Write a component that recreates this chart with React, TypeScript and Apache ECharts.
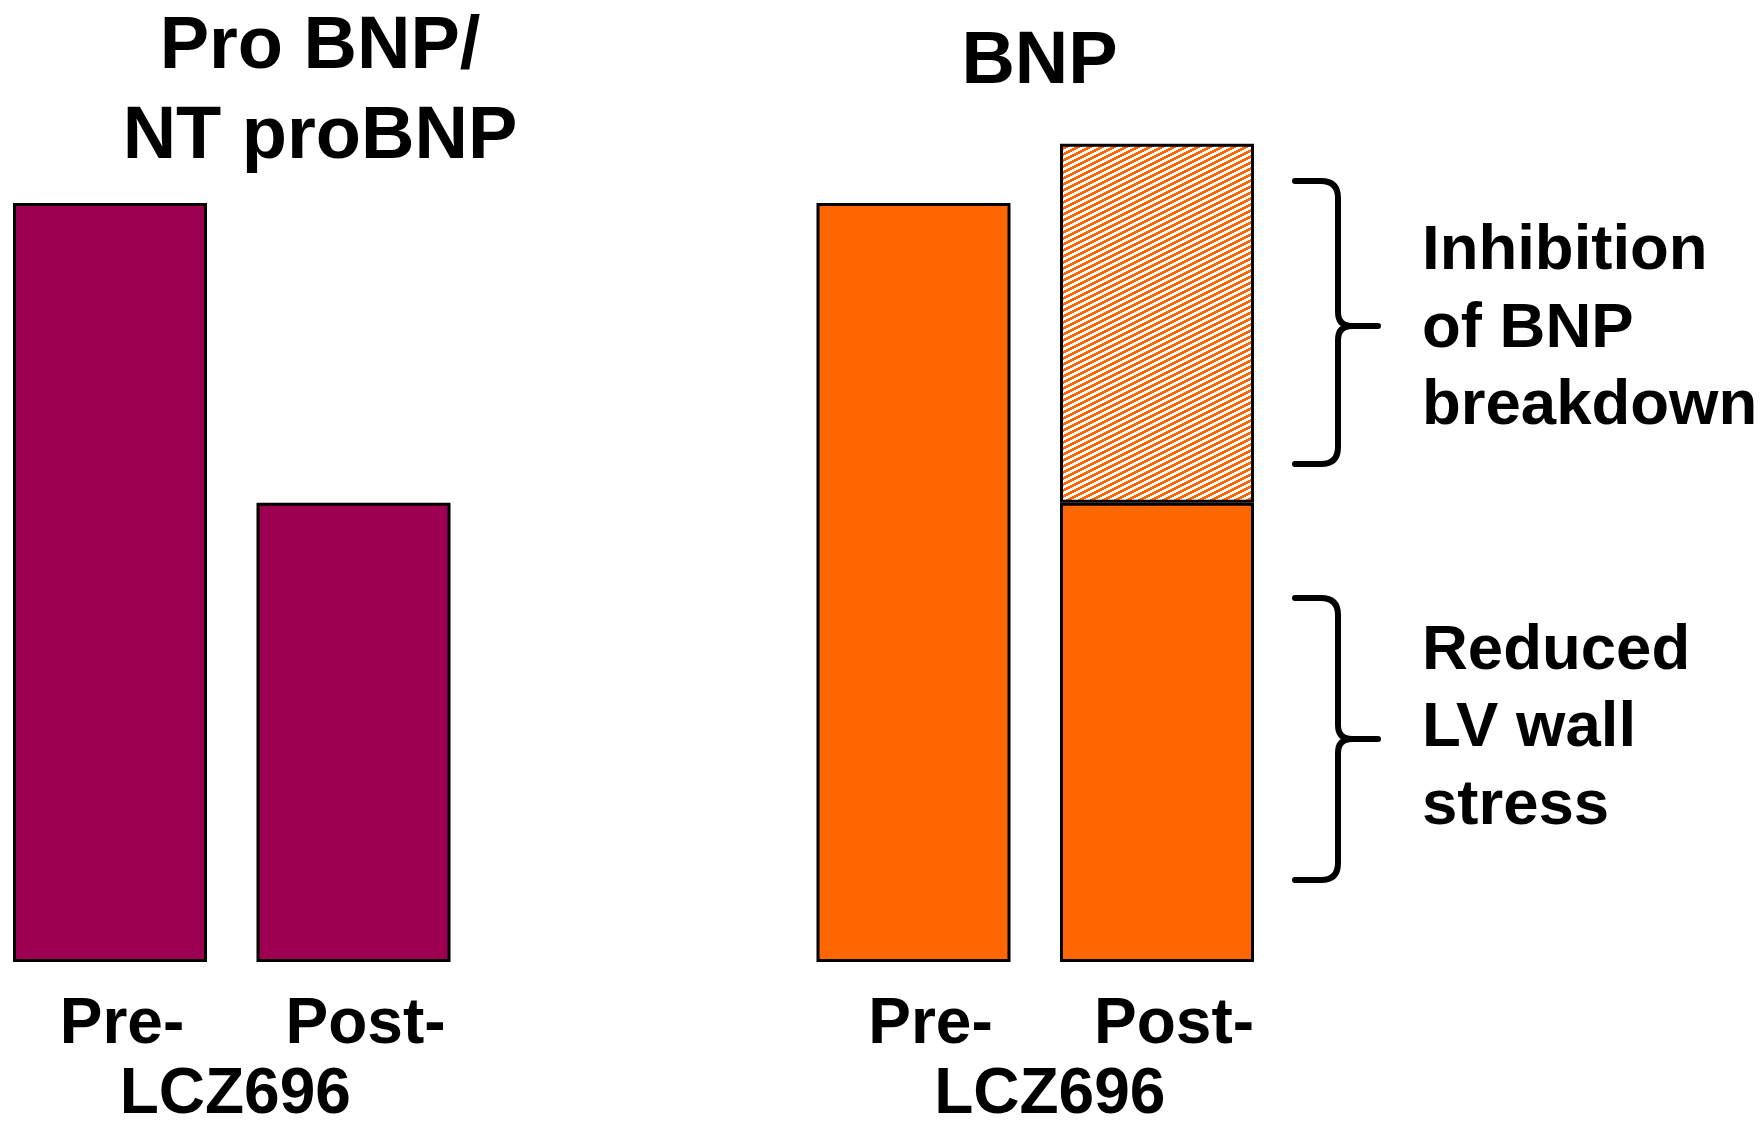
import React, { useEffect, useRef } from "react";
import * as echarts from "echarts";

// ---- data ----
const categories = ["Pre-", "Post-"];
const proBnpValues = [100, 60.5];
const bnpStressValues = [100, 60.5];
const bnpBreakdownValues: (number | string)[] = ["-", 47.3];
const groupTitles = ["Pro BNP/\nNT proBNP", "BNP"];
const axisNameText = "LCZ696";
const braceLabels = ["Inhibition\nof BNP\nbreakdown", "Reduced\nLV wall\nstress"];
const yMax = 110;

// ---- styles ----
const PURPLE = "#9D0050";
const ORANGE = "#FF6600";
const FONT = '"Liberation Sans", Arial, Helvetica, sans-serif';

const BRACE_UPPER =
  "M1295,181 L1321,181 Q1338,181 1338,198 L1338,312 Q1338,326 1352,326 L1378,326 M1352,326 Q1338,326 1338,340 L1338,447 Q1338,464 1321,464 L1295,464";
const BRACE_LOWER =
  "M1295,598 L1321,598 Q1338,598 1338,615 L1338,725 Q1338,739 1352,739 L1378,739 M1352,739 Q1338,739 1338,753 L1338,863 Q1338,880 1321,880 L1295,880";

let registered = false;
function registerShapes() {
  if (registered) return;
  echarts.graphic.registerShape("braceUpper", echarts.graphic.extendPath(BRACE_UPPER, {}));
  echarts.graphic.registerShape("braceLower", echarts.graphic.extendPath(BRACE_LOWER, {}));
  registered = true;
}

function makeHatch(): HTMLCanvasElement {
  const W = 12;
  const P = 6;
  const c = document.createElement("canvas");
  c.width = W;
  c.height = P;
  const ctx = c.getContext("2d")!;
  const img = ctx.createImageData(W, P);
  for (let y = 0; y < P; y++) {
    for (let x = 0; x < W; x++) {
      const v = (y + Math.floor(x / 2)) % P;
      const i = (y * W + x) * 4;
      if (v < P / 2) {
        img.data[i] = 255; img.data[i + 1] = 102; img.data[i + 2] = 0;
      } else {
        img.data[i] = 255; img.data[i + 1] = 255; img.data[i + 2] = 255;
      }
      img.data[i + 3] = 255;
    }
  }
  ctx.putImageData(img, 0, 0);
  return c;
}

export default function App() {
  const ref = useRef<HTMLDivElement>(null);
  useEffect(() => {
    if (!ref.current) return;
    registerShapes();
    const chart = echarts.init(ref.current, undefined, { renderer: "svg" });
    const hatch = makeHatch();

    const labelStyle = {
      fontSize: 64,
      fontWeight: "bold" as const,
      fontFamily: FONT,
      color: "#000",
    };

    const xAxisBase = (gridIndex: number, padLeft: number, namePad: number) => ({
      type: "category" as const,
      gridIndex,
      data: categories,
      axisLine: { show: false },
      axisTick: { show: false },
      axisLabel: { ...labelStyle, margin: 27, padding: [0, 0, 0, padLeft] },
      name: axisNameText,
      nameLocation: "middle" as const,
      nameGap: 106,
      nameMoveOverlap: false,
      nameTextStyle: { ...labelStyle, lineHeight: 46, padding: [0, 0, 0, namePad] },
    });

    const yAxisBase = (gridIndex: number) => ({
      type: "value" as const,
      gridIndex,
      min: 0,
      max: yMax,
      show: false,
      splitLine: { show: false },
    });

    const barCommon = {
      type: "bar" as const,
      barWidth: 194,
      itemStyle: { borderColor: "#000", borderWidth: 3 },
    };

    const titleStyle = {
      fontSize: 74,
      fontWeight: "bold",
      fontFamily: FONT,
      fill: "#000",
      align: "center",
      verticalAlign: "top",
      lineHeight: 90,
    };
    const noteStyle = {
      fontSize: 63.5,
      fontWeight: "bold",
      fontFamily: FONT,
      fill: "#000",
      align: "left",
      verticalAlign: "top",
      lineHeight: 77.5,
    };

    chart.setOption({
      animation: false,
      backgroundColor: "#fff",
      grid: [
        { left: -11.75, width: 487, top: 127, height: 835, outerBoundsMode: "none", containLabel: false },
        { left: 791.75, width: 487, top: 127, height: 835, outerBoundsMode: "none", containLabel: false },
      ],
      xAxis: [xAxisBase(0, 24, 7), xAxisBase(1, 34, 29)],
      yAxis: [yAxisBase(0), yAxisBase(1)],
      series: [
        {
          ...barCommon,
          name: "Pro BNP / NT proBNP",
          xAxisIndex: 0,
          yAxisIndex: 0,
          data: proBnpValues,
          itemStyle: { ...barCommon.itemStyle, color: PURPLE },
        },
        {
          ...barCommon,
          name: "BNP (LV wall stress)",
          xAxisIndex: 1,
          yAxisIndex: 1,
          stack: "bnp",
          data: bnpStressValues,
          itemStyle: { ...barCommon.itemStyle, color: ORANGE },
        },
        {
          ...barCommon,
          name: "BNP (inhibited breakdown)",
          xAxisIndex: 1,
          yAxisIndex: 1,
          stack: "bnp",
          data: bnpBreakdownValues,
          itemStyle: {
            ...barCommon.itemStyle,
            color: { image: hatch, repeat: "repeat", imageWidth: 12, imageHeight: 6 },
          },
        },
      ],
      graphic: [
        { type: "text", x: 320, y: -3, style: { ...titleStyle, text: groupTitles[0] } },
        { type: "text", x: 1039.5, y: 12, style: { ...titleStyle, text: groupTitles[1] } },
        { type: "text", x: 1422, y: 208.5, style: { ...noteStyle, text: braceLabels[0] } },
        { type: "text", x: 1422, y: 608, style: { ...noteStyle, text: braceLabels[1] } },
        {
          type: "braceUpper",
          x: 0,
          y: 0,
          style: { stroke: "#000", lineWidth: 6, fill: "none", lineCap: "round", lineJoin: "round" },
        },
        {
          type: "braceLower",
          x: 0,
          y: 0,
          style: { stroke: "#000", lineWidth: 6, fill: "none", lineCap: "round", lineJoin: "round" },
        },
      ],
    });
    return () => chart.dispose();
  }, []);
  return (
    <div
      ref={ref}
      style={{ position: "absolute", left: 0, top: 0, width: 1762, height: 1121 }}
    />
  );
}
